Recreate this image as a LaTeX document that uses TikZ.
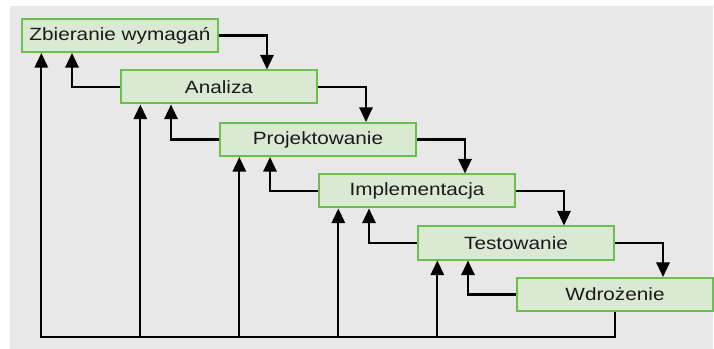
\documentclass[tikz,border=0pt]{standalone}
\usepackage{fontspec}
\setmainfont{Liberation Sans}[FakeStretch=1.17]
\usepackage{tikz}
\usetikzlibrary{arrows.meta}
\usepackage{xcolor}
\definecolor{tlo}{HTML}{E8E8E8}
\definecolor{zielony}{HTML}{6CBF4E}
\definecolor{jasnyziel}{HTML}{DAE9D2}
\definecolor{tekst}{HTML}{1A1A1A}

\begin{document}
\begin{tikzpicture}[x=0.75pt,y=0.75pt,yscale=-1,xscale=1,
  faza/.style={draw=zielony, fill=jasnyziel, line width=1.5pt, inner sep=0pt,
    minimum width=147pt, minimum height=24.75pt, text=tekst,
    font=\fontsize{13.3}{16}\selectfont},
  strz/.style={line width=1.6pt, -{Triangle[width=10pt,length=11pt]}},
  linia/.style={line width=1.6pt}]
\useasboundingbox (0,0) rectangle (714,349);
%Shape: background
\fill[tlo] (10,6) rectangle (713,349);

% Text Node
\node[faza] (z) at (120,35.5) {Zbieranie wymagań};
\node[faza] (a) at (219,87) {Analiza};
\node[faza] (p) at (318,139.5) {Projektowanie};
\node[faza] (i) at (417,191) {Implementacja};
\node[faza] (t) at (516,243) {Testowanie};
\node[faza] (w) at (615,294.5) {Wdrożenie};

%Straight Lines: down
\draw[strz] (z.east) -| ([xshift=36pt]a.north);
\draw[strz] (a.east) -| ([xshift=36pt]p.north);
\draw[strz] (p.east) -| ([xshift=36pt]i.north);
\draw[strz] (i.east) -| ([xshift=36pt]t.north);
\draw[strz] (t.east) -| ([xshift=36pt]w.north);

%Straight Lines: back
\draw[strz] (a.west) -| ([xshift=-36pt]z.south);
\draw[strz] (p.west) -| ([xshift=-36pt]a.south);
\draw[strz] (i.west) -| ([xshift=-36pt]p.south);
\draw[strz] (t.west) -| ([xshift=-36pt]i.south);
\draw[strz] (w.west) -| ([xshift=-36pt]t.south);

%Straight Lines: bottom
\coordinate (dol) at (40,337);
\draw[linia] (w.south) |- (dol);
\draw[strz] ([xshift=-59pt]z.south |- dol) -- ([xshift=-59pt]z.south);
\draw[strz] ([xshift=-59pt]a.south |- dol) -- ([xshift=-59pt]a.south);
\draw[strz] ([xshift=-59pt]p.south |- dol) -- ([xshift=-59pt]p.south);
\draw[strz] ([xshift=-59pt]i.south |- dol) -- ([xshift=-59pt]i.south);
\draw[strz] ([xshift=-59pt]t.south |- dol) -- ([xshift=-59pt]t.south);

\end{tikzpicture}
\end{document}
